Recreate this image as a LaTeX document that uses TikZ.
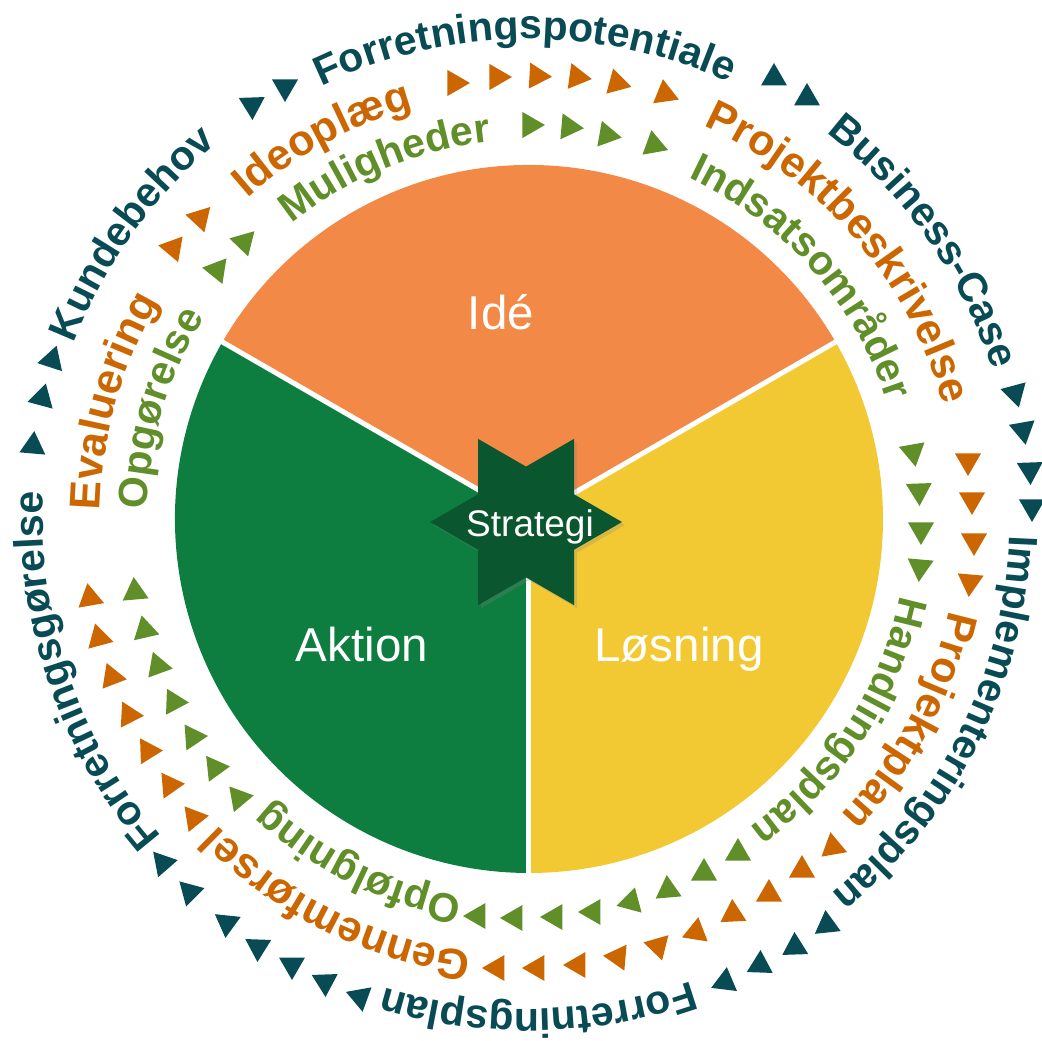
\documentclass[tikz,border=0pt]{standalone}
\usepackage{fontspec}
\setmainfont{Liberation Sans}
\usetikzlibrary{decorations.text,shadows}

\definecolor{ideorange}{HTML}{F28946}
\definecolor{aktgreen}{HTML}{0E7E40}
\definecolor{losyellow}{HTML}{F3C933}
\definecolor{stargreen}{HTML}{0A572F}
\definecolor{ringteal}{HTML}{084B55}
\definecolor{ringorange}{HTML}{CC6600}
\definecolor{ringgreen}{HTML}{608E28}

% radius, centre angle, colour, font size, text
\newcommand{\ringtext}[5]{%
  \path[decorate,decoration={text along path,text align=center,
      text={|\bfseries\fontsize{#4}{#4}\selectfont\color{#3}|#5}}]
    ({#2+45}:#1) arc[start angle={#2+45},end angle={#2-45},radius=#1];}

\begin{document}
\begin{tikzpicture}[
        x=1pt, y=1pt,
        seclabel/.style={text=white,font=\fontsize{47.5}{47.5}\selectfont,inner sep=0pt,anchor=base},
        sep/.style={white,line width=5}
    ]
    \useasboundingbox (-529,-522) rectangle (513,519);

    % pie
    \fill[ideorange] (0,0) -- (30:354) arc[start angle=30,end angle=150,radius=354] -- cycle;
    \fill[aktgreen] (0,0) -- (150:354) arc[start angle=150,end angle=270,radius=354] -- cycle;
    \fill[losyellow] (0,0) -- (270:354) arc[start angle=270,end angle=390,radius=354] -- cycle;
    \draw[sep] (0,0) -- (30:356);
    \draw[sep] (0,0) -- (150:356);
    \draw[sep] (0,0) -- (270:356);

    \node[seclabel] (ide) at (-28,189) {Idé};
    \node[seclabel] (aktion) at (-167,-143) {Aktion};
    \node[seclabel] (losning) at (150,-143) {Løsning};

    % star
    \fill[stargreen,drop shadow={shadow xshift=3pt,shadow yshift=-3pt,opacity=0.25}]
        (-3,-3) ++(0:96) \foreach \a in {0,60,...,300} {-- ++({\a+150}:55.4) -- ++({\a+90}:55.4)} -- cycle;
    \node[text=white,font=\fontsize{37}{37}\selectfont,inner sep=0pt,anchor=base] (strategi) at (1,-18) {Strategi};

    % outer ring
    \ringtext{488}{144.3}{ringteal}{41}{Kundebehov}
    \ringtext{480}{90.5}{ringteal}{41}{Forretningspotentiale}
    \ringtext{487}{35.1}{ringteal}{41}{Business-Case}
    \ringtext{481}{-26.5}{ringteal}{41}{Implementeringsplan}
    \ringtext{490}{-88.9}{ringteal}{41}{Forretningsplan}
    \ringtext{486}{198.8}{ringteal}{41}{Forretningsgørelse}

    % middle ring
    \ringtext{427}{118.5}{ringorange}{43}{Ideoplæg}
    \ringtext{430}{40.7}{ringorange}{43}{Projektbeskrivelse}
    \ringtext{430}{-27.9}{ringorange}{43}{Projektplan}
    \ringtext{437}{243.5}{ringorange}{43}{Gennemførsel}
    \ringtext{429}{164.2}{ringorange}{43}{Evaluering}

    % inner ring
    \ringtext{379}{112.3}{ringgreen}{41}{Muligheder}
    \ringtext{377}{41.6}{ringgreen}{41}{Indsatsområder}
    \ringtext{379}{-33}{ringgreen}{41}{Handlingsplan}
    \ringtext{384}{243.7}{ringgreen}{41}{Opfølgning}
    \ringtext{382}{163.3}{ringgreen}{41}{Opgørelse}

    % triangles (x/y in picture pixels, direction)
    \foreach \x/\y/\d in {252/105/-88, 285/87/-90, 774/78/90, 807/98/90,
        1015/393/-75, 1023/430/-80, 1030/470/-88, 1032/507/-90,
        827/925/96, 795/947/92, 760/965/88, 725/982/83,
        360/997/-80, 325/982/-88, 292/965/-90, 258/947/-92, 227/923/-96, 190/892/-105, 163/863/-109,
        33/446/85, 42/398/75, 52/360/72}
        \fill[ringteal,shift={({\x-529},{519-\y})},rotate=\d] (0:15) -- (120:15) -- (240:15) -- cycle;
    \foreach \x/\y/\d in {173/248/50, 200/218/47,
        455/83/0, 497/77/0, 537/76/-3, 577/77/-8, 617/83/-15, 665/94/-22,
        968/461/-90, 972/500/-90, 974/541/-90, 970/582/-95,
        833/847/100, 802/870/90, 769/894/90, 733/914/93, 696/932/81, 658/946/166, 618/957/175, 578/965/180, 537/968/180, 497/968/180,
        90/598/100, 99/638/105, 112/677/111, 129/715/117, 148/751/122, 170/785/125, 194/818/129}
        \fill[ringorange,shift={({\x-529},{519-\y})},rotate=\d] (0:15) -- (120:15) -- (240:15) -- cycle;
    \foreach \x/\y/\d in {217/270/51, 244/242/46,
        530/125/0, 569/127/-5, 607/135/-10, 654/145/-20,
        913/452/-80, 919/491/-88, 921/530/-90, 920/567/-95,
        738/853/90, 704/873/90, 668/890/95, 631/902/75, 593/912/180, 555/917/180, 515/918/180, 478/916/180,
        135/592/95, 145/630/103, 158/666/110, 174/702/118, 193/737/124, 215/768/126, 239/798/130}
        \fill[ringgreen,shift={({\x-529},{519-\y})},rotate=\d] (0:15) -- (120:15) -- (240:15) -- cycle;
\end{tikzpicture}
\end{document}
